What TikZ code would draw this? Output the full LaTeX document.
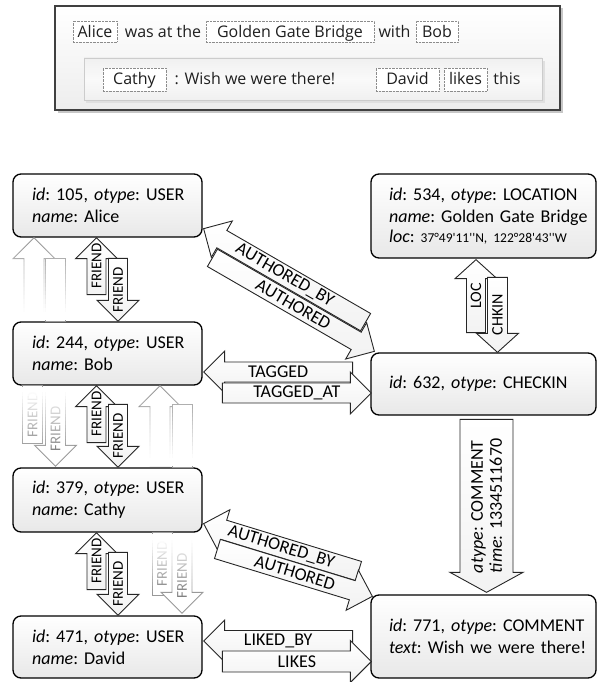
\documentclass[tikz,border=0pt]{standalone}
\usepackage{fontspec}
\setmainfont{Carlito}
\newfontfamily\storyfont{Open Sans}
\usetikzlibrary{calc}

\newcommand\sz[2]{\fontsize{#1}{#2}\selectfont}

% white veil that fades a band out: x0, x1, y where it is clear,
% y where it turns opaque, y where it ends
\newcommand\fadeband[5]{%
  \foreach \i in {0,...,15}{%
    \pgfmathsetmacro\ya{#3+(#4-#3)*\i/16}%
    \pgfmathsetmacro\yb{#3+(#4-#3)*(\i+1)/16}%
    \pgfmathsetmacro\op{(\i+0.5)/16}%
    \fill[white, opacity=\op] (#1,\ya) rectangle (#2,\yb);
  }%
  \fill[white] (#1,#4) rectangle (#2,#5);
}

\tikzset{
  lblrot/.store in=\blklblrot, lblrot=0,
  flipped/.style={lblrot=180},
  blkbody/.style={draw=black!85, line width=0.9pt, top color=white, bottom color=black!5},
  blklabel/.style={inner sep=0pt, align=left, font=\sz{18}{19}},
  % block arrow: tip at the pic origin, pointing along +x
  % #1 length, #2 half shaft width, #3 half head width, #4 label, #5 head length
  pics/blk/.style n args={5}{code={
    \path[blkbody] (0,0) -- (-#5,#3) -- (-#5,#2) -- (-#1,#2) -- (-#1,-#2)
      -- (-#5,-#2) -- (-#5,-#3) -- cycle;
    \node[blklabel, transform shape, rotate=\blklblrot] at ({-(#1)/2},0) {#4};
  }},
  ghost/.style={
    blkbody/.style={draw=black!40, line width=0.9pt, fill=white},
    blklabel/.style={inner sep=0pt, text=black!50, font=\sz{15}{15}}},
  entity/.style={draw=black, line width=1.3pt, rounded corners=8pt,
    top color=white, bottom color=black!9, inner ysep=0pt, align=left,
    font=\sz{18}{22}, execute at begin node=\frenchspacing},
  userbox/.style={entity, minimum width=189pt, text width=151pt, inner xsep=19pt,
    minimum height=63pt},
  objbox/.style={entity, minimum width=225pt, text width=189pt, inner xsep=18pt},
  word/.style={anchor=base, inner sep=0pt, font=\storyfont\sz{16}{19}, text=black!88},
  wordbox/.style={word, draw=black!45, densely dotted, fill=white,
    text height=17pt, text depth=4pt},
  wordbox2/.style={wordbox, text depth=6pt},
}

\begin{document}
\begin{tikzpicture}[x=1pt, y=-1pt]
\useasboundingbox (0,0) rectangle (597,682);

% ---- story panel ----
\fill[black!22] (57.5,8.5) rectangle (562.5,113);
\node[draw=black!75, line width=1.2pt, top color=white, bottom color=black!7,
  minimum width=505pt, minimum height=104pt, inner sep=0pt] (story) at (307.5,58) {};
\fill[black!12] (86,61) rectangle (545,103);
\node[draw=black!20, line width=0.8pt, top color=black!6, bottom color=black!6,
  middle color=black!2, minimum width=458pt, minimum height=42pt, inner sep=0pt]
  (thread) at (313,79) {};

\node[wordbox, minimum width=44pt] (wAlice) at (95,38) {Alice};
\node[word] (wWas) at (163,38) {was at the};
\node[wordbox, minimum width=168pt] (wGGB) at (290,38) {Golden Gate Bridge};
\node[word] (wWith) at (394.5,38) {with};
\node[wordbox, minimum width=42pt] (wBob) at (437,38) {Bob};

\node[wordbox2, minimum width=63pt] (wCathy) at (134.5,85) {Cathy};
\node[word] (wWish) at (255,85) {: Wish we were there!};
\node[wordbox2, minimum width=63pt] (wDavid) at (407.5,85) {David};
\node[wordbox2, minimum width=43pt] (wLikes) at (465.5,85) {likes};
\node[word] (wThis) at (507,85) {this};

% ---- objects ----
\node[userbox] (alice) at (107.5,205.5)
  {\mbox{\textit{id}: 105, \textit{otype}: USER}\\\mbox{\textit{name}: Alice}};
\node[userbox] (bob) at (107.5,353.5)
  {\mbox{\textit{id}: 244, \textit{otype}: USER}\\\mbox{\textit{name}: Bob}};
\node[userbox, minimum height=64pt] (cathy) at (107.5,500)
  {\mbox{\textit{id}: 379, \textit{otype}: USER}\\\mbox{\textit{name}: Cathy}};
\node[userbox, minimum height=62pt] (david) at (107.5,647)
  {\mbox{\textit{id}: 471, \textit{otype}: USER}\\\mbox{\textit{name}: David}};
\node[objbox, minimum height=84pt] (location) at (483.5,216)
  {\mbox{\textit{id}: 534, \textit{otype}: LOCATION}\\
   \mbox{\textit{name}: Golden Gate Bridge}\\[-2pt]
   \mbox{\textit{loc}: {\sz{13.5}{16}37°49\textquotesingle 11\textquotesingle\textquotesingle N, 122°28\textquotesingle 43\textquotesingle\textquotesingle W}}};
\node[objbox, minimum height=62pt] (checkin) at (483.5,384)
  {\mbox{\textit{id}: 632, \textit{otype}: CHECKIN}};
\node[objbox, minimum height=83pt] (comment) at (483.5,636.5)
  {\mbox{\textit{id}: 771, \textit{otype}: COMMENT}\\\mbox{\textit{text}: Wish we were there!}};

% ---- half-hidden FRIEND edges, each fading out at one end ----
\begin{scope}[ghost]
  \pic[rotate=90] at ($(alice.south)+(-73.5,0)$) {blk={80}{10}{21}{}{21}};
  \pic[rotate=-90] at ($(bob.north)+(-52.5,0)$) {blk={63}{10}{10}{}{0}};
  \fadeband{10}{74}{245}{312}{320}

  \pic[rotate=90] at ($(bob.south)+(52.5,0)$) {blk={80}{10}{21}{}{21}};
  \pic[rotate=-90] at ($(cathy.north)+(74.5,0)$) {blk={63}{10}{10}{}{0}};
  \fadeband{140}{205}{392}{458}{466}

  \pic[rotate=90] at ($(bob.south)+(-75,0)$) {blk={58}{10}{10}{FRIEND}{0}};
  \pic[rotate=-90, flipped] at ($(cathy.north)+(-52,-1)$) {blk={75}{10}{21}{FRIEND}{21}};
  \fadeband{10}{74}{450}{392}{387}

  \pic[rotate=90] at ($(cathy.south)+(54.5,0)$) {blk={63}{10}{10}{FRIEND}{0}};
  \pic[rotate=-90, flipped] at ($(david.north)+(74.5,-2)$) {blk={75}{10}{21}{FRIEND}{21}};
  \fadeband{140}{205}{592}{540}{534}
\end{scope}

% ---- FRIEND pairs ----
\pic[rotate=90] at ($(alice.south)+(-11,0)$) {blk={57}{9.5}{21}{\sz{15}{15}FRIEND}{21}};
\pic[rotate=-90, flipped] at ($(bob.north)+(10.5,0)$) {blk={63}{9.5}{21}{\sz{15}{15}FRIEND}{21}};
\pic[rotate=90] at ($(bob.south)+(-11,0)$) {blk={57}{9.5}{21}{\sz{15}{15}FRIEND}{21}};
\pic[rotate=-90, flipped] at ($(cathy.north)+(10.5,0)$) {blk={63}{9.5}{21}{\sz{15}{15}FRIEND}{21}};
\pic[rotate=90] at ($(cathy.south)+(-11,0)$) {blk={57}{9.5}{21}{\sz{15}{15}FRIEND}{21}};
\pic[rotate=-90, flipped] at ($(david.north)+(10.5,0)$) {blk={63}{9.5}{21}{\sz{15}{15}FRIEND}{21}};

% ---- LOC / CHKIN ----
\pic[rotate=90] at ($(location.south)+(-7.5,1)$) {blk={73}{9.5}{21}{\sz{16}{16}LOC}{19}};
\pic[rotate=-90, flipped] at ($(checkin.north)+(14,0)$) {blk={75}{10}{21}{\sz{16}{16}CHKIN}{19}};

% ---- AUTHORED pairs ----
\pic[rotate=150, flipped] at ($(alice.south east)+(1,-9)$) {blk={187}{10}{21}{AUTHORED\_BY}{21}};
\pic[rotate=-30] at ($(checkin.north west)+(4,-1)$) {blk={187}{10}{21}{AUTHORED}{21}};
\pic[rotate=163, flipped] at ($(cathy.south east)+(1,-9)$) {blk={162}{10}{21}{AUTHORED\_BY}{21}};
\pic[rotate=-17] at ($(comment.north west)+(2,2)$) {blk={162}{10}{21}{AUTHORED}{21}};

% ---- TAGGED / LIKED pairs ----
\pic[rotate=180, flipped] at ($(bob.east)+(1,18.5)$) {blk={149}{10}{21}{TAGGED}{21}};
\pic at ($(checkin.west)+(1,9)$) {blk={149}{10}{21}{TAGGED\_AT}{21}};
\pic[rotate=180, flipped] at ($(david.east)+(1,-6)$) {blk={149}{10.5}{21}{LIKED\_BY}{21}};
\pic at ($(comment.west)+(1,25)$) {blk={149}{10.5}{21}{LIKES}{21}};

% ---- COMMENT edge ----
\pic[rotate=-90, flipped] at ($(comment.north)+(3,-2)$)
  {blk={173}{26.5}{36.5}{\textit{atype}: COMMENT\\\textit{time}: 1334511670}{20}};
\end{tikzpicture}
\end{document}
